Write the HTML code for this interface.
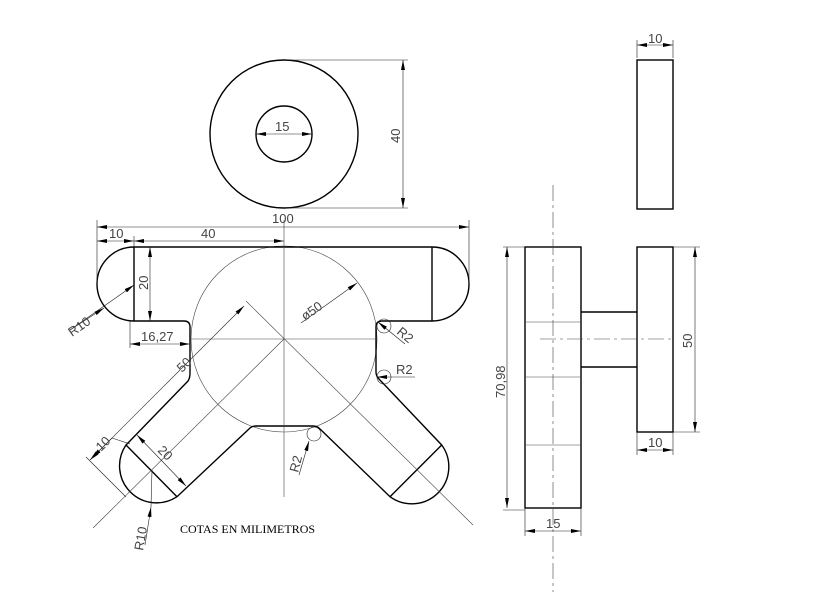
<!DOCTYPE html>
<html><head><meta charset="utf-8"><style>
html,body{margin:0;padding:0;background:#fff;}
svg{display:block;}
.o{stroke:#000;stroke-width:1.4;fill:none;}
.d{stroke:#222;stroke-width:0.6;fill:none;}
.c{stroke:#444;stroke-width:0.6;fill:none;}
.dd{stroke:#444;stroke-width:0.6;fill:none;stroke-dasharray:16 4 3 4;}
.t{font-family:"Liberation Sans",sans-serif;font-size:13px;fill:#444;}
</style></head><body>
<svg width="818" height="600" viewBox="0 0 818 600" xmlns="http://www.w3.org/2000/svg">
<defs>
<marker id="a" viewBox="0 0 10 4" refX="10" refY="2" markerWidth="10" markerHeight="4" orient="auto-start-reverse" markerUnits="userSpaceOnUse"><path d="M0,0 L10,2 L0,4z" fill="#000"/></marker>
</defs>

<circle class="o" cx="284" cy="134" r="74"/>
<circle class="o" cx="284" cy="134" r="28"/>
<line class="d" x1="256" y1="134" x2="312" y2="134" marker-start="url(#a)" marker-end="url(#a)"/>
<text class="t" x="275" y="131">15</text>
<line class="d" x1="286" y1="60" x2="408" y2="60"/>
<line class="d" x1="286" y1="208" x2="408" y2="208"/>
<line class="d" x1="403" y1="60" x2="403" y2="208" marker-start="url(#a)" marker-end="url(#a)"/>
<text class="t" transform="translate(400,143) rotate(-90)">40</text>

<circle class="c" cx="284" cy="339" r="93"/>
<path class="o" d="M134,247 L432,247 A37,37 0 0 1 432,321 L382,321 Q376,321 376,327 L376,372 Q376,376 379,379 L441.7,445 A37,37 0 0 1 390,496.7 L320,429 Q317,426 313,426 L256,426 Q252,426 250,428 L177,496.7 A37,37 0 0 1 126,445 L188,381 Q190,378 190,373 L190,327 Q190,321 184,321 L134,321 A37,37 0 0 1 134,247 Z"/>
<line class="o" x1="134" y1="247" x2="134" y2="321"/>
<line class="o" x1="432" y1="247" x2="432" y2="321"/>
<line class="o" x1="126" y1="445" x2="177" y2="496.7"/>
<line class="o" x1="441.7" y1="445" x2="390" y2="496.7"/>
<line class="c" x1="190" y1="339" x2="376" y2="339"/>
<line class="c" x1="284" y1="220" x2="284" y2="497"/>
<line class="c" x1="246" y1="301" x2="473" y2="525"/>
<line class="c" x1="93" y1="528" x2="284" y2="339"/>
<line class="d" x1="97" y1="220" x2="97" y2="284"/>
<line class="d" x1="469" y1="220" x2="469" y2="284"/>
<line class="d" x1="97" y1="227" x2="469" y2="227" marker-start="url(#a)" marker-end="url(#a)"/>
<text class="t" x="272" y="223">100</text>
<line class="d" x1="134" y1="236" x2="134" y2="247"/>
<line class="d" x1="97" y1="241" x2="134" y2="241" marker-start="url(#a)" marker-end="url(#a)"/>
<line class="d" x1="134" y1="241" x2="284" y2="241" marker-start="url(#a)" marker-end="url(#a)"/>
<text class="t" x="109" y="238">10</text>
<text class="t" x="201" y="238">40</text>
<line class="d" x1="150" y1="247" x2="150" y2="321" marker-start="url(#a)" marker-end="url(#a)"/>
<text class="t" transform="translate(148,290) rotate(-90)">20</text>
<line class="d" x1="130" y1="321" x2="130" y2="348"/>
<line class="d" x1="130" y1="344" x2="190" y2="344" marker-start="url(#a)" marker-end="url(#a)"/>
<text class="t" x="141" y="341">16,27</text>
<line class="d" x1="70" y1="330" x2="134" y2="285" marker-end="url(#a)"/>
<line class="d" x1="70" y1="330" x2="104" y2="308" marker-end="url(#a)"/>
<text class="t" transform="translate(72,337) rotate(-35)">R10</text>
<line class="d" x1="301" y1="323" x2="357" y2="283" marker-end="url(#a)"/>
<text class="t" transform="translate(305,321) rotate(-35)">ø50</text>
<circle class="d" cx="384" cy="326" r="7"/>
<line class="d" x1="405" y1="344" x2="378" y2="322" marker-end="url(#a)"/>
<text class="t" transform="translate(396,333) rotate(40)">R2</text>
<circle class="d" cx="384" cy="377" r="7"/>
<line class="d" x1="415" y1="377" x2="377" y2="377" marker-end="url(#a)"/>
<text class="t" x="396" y="374">R2</text>
<circle class="d" cx="314" cy="434" r="7"/>
<line class="d" x1="299" y1="475" x2="309" y2="441" marker-end="url(#a)"/>
<text class="t" transform="translate(298,473) rotate(-75)">R2</text>
<line class="d" x1="90" y1="460" x2="244" y2="306" marker-start="url(#a)" marker-end="url(#a)"/>
<line class="d" x1="86" y1="457" x2="126" y2="497"/>
<line class="d" x1="112" y1="438" x2="130" y2="444"/>
<line class="d" x1="92" y1="458" x2="112" y2="438" marker-start="url(#a)"/>
<text class="t" transform="translate(182,373) rotate(-45)">50</text>
<text class="t" transform="translate(101,452) rotate(-45)">10</text>
<line class="d" x1="137" y1="435" x2="186" y2="486" marker-start="url(#a)" marker-end="url(#a)"/>
<text class="t" transform="translate(157,451) rotate(45)">20</text>
<line class="d" x1="145" y1="545" x2="151" y2="507" marker-end="url(#a)"/>
<line class="d" x1="151" y1="507" x2="152" y2="470"/>
<text class="t" transform="translate(143,551) rotate(-80)">R10</text>
<text x="180" y="533" style="font-family:'Liberation Serif',serif;font-size:12px;fill:#000">COTAS EN MILIMETROS</text>

<rect class="o" x="637" y="60" width="36" height="149"/>
<line class="d" x1="637" y1="40" x2="637" y2="58"/>
<line class="d" x1="673" y1="40" x2="673" y2="58"/>
<line class="d" x1="637" y1="45" x2="673" y2="45" marker-start="url(#a)" marker-end="url(#a)"/>
<text class="t" x="648" y="43">10</text>

<rect class="o" x="525" y="247" width="56" height="261"/>
<line class="c" x1="525" y1="322" x2="581" y2="322"/>
<line class="c" x1="525" y1="377" x2="581" y2="377"/>
<line class="c" x1="525" y1="445" x2="581" y2="445"/>
<path class="o" d="M581,312 L637,312 M581,367 L637,367"/>
<rect class="o" x="637" y="247" width="36" height="185"/>
<line class="dd" x1="553" y1="185" x2="553" y2="592"/>
<line class="dd" x1="540" y1="339" x2="673" y2="339"/>
<line class="d" x1="503" y1="247" x2="525" y2="247"/>
<line class="d" x1="503" y1="510" x2="525" y2="510"/>
<line class="d" x1="507" y1="247" x2="507" y2="508" marker-start="url(#a)" marker-end="url(#a)"/>
<text class="t" transform="translate(505,398) rotate(-90)">70,98</text>
<line class="d" x1="525" y1="508" x2="525" y2="536"/>
<line class="d" x1="581" y1="508" x2="581" y2="536"/>
<line class="d" x1="525" y1="531" x2="581" y2="531" marker-start="url(#a)" marker-end="url(#a)"/>
<text class="t" x="546" y="528">15</text>
<line class="d" x1="673" y1="247" x2="700" y2="247"/>
<line class="d" x1="673" y1="432" x2="700" y2="432"/>
<line class="d" x1="695" y1="247" x2="695" y2="432" marker-start="url(#a)" marker-end="url(#a)"/>
<text class="t" transform="translate(692,348) rotate(-90)">50</text>
<line class="d" x1="637" y1="432" x2="637" y2="455"/>
<line class="d" x1="673" y1="432" x2="673" y2="455"/>
<line class="d" x1="637" y1="450" x2="673" y2="450" marker-start="url(#a)" marker-end="url(#a)"/>
<text class="t" x="648" y="447">10</text>
</svg>
</body></html>
